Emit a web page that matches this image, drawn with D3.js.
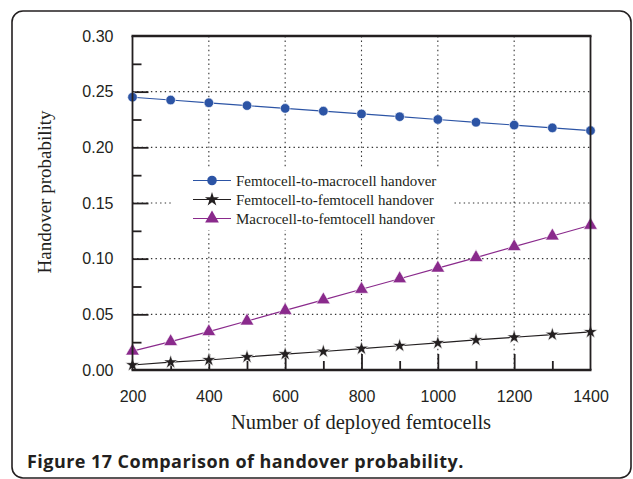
<!DOCTYPE html>
<html>
<head>
<meta charset="utf-8">
<script src="https://cdn.jsdelivr.net/npm/d3@7.9.0/dist/d3.min.js"></script>
<style>
  html, body { margin: 0; padding: 0; background: #fff; }
  svg { display: block; }
</style>
</head>
<body>
<div id="chart"></div>
<script>
// ---- data ----
const femtocells = [200, 300, 400, 500, 600, 700, 800, 900, 1000, 1100, 1200, 1300, 1400];
const femtoToMacro = [0.245, 0.2425, 0.240, 0.2375, 0.235, 0.2325, 0.230, 0.2275, 0.225, 0.2225, 0.220, 0.2175, 0.215];
const femtoToFemto = [0.0045, 0.007, 0.009, 0.0117, 0.0143, 0.0166, 0.0192, 0.0218, 0.0243, 0.027, 0.0294, 0.0318, 0.0342];
const macroToFemto = [0.017, 0.0255, 0.0345, 0.044, 0.0535, 0.063, 0.0725, 0.082, 0.0915, 0.101, 0.1108, 0.1204, 0.130];
const seriesNames = ['Femtocell-to-macrocell handover', 'Femtocell-to-femtocell handover', 'Macrocell-to-femtocell handover'];
const xTicks = [200, 400, 600, 800, 1000, 1200, 1400];
const xMinor = [300, 500, 700, 900, 1100, 1300];
const yTicks = [0, 0.05, 0.10, 0.15, 0.20, 0.25, 0.30];
const yMinor = [0.025, 0.075, 0.125, 0.175, 0.225, 0.275];
const xTitle = 'Number of deployed femtocells';
const yTitle = 'Handover probability';
const caption = 'Figure 17 Comparison of handover probability.';

const width = 633, height = 479;
const box = { left: 132.5, right: 590.5, top: 36, bottom: 370 };

const svg = d3.select('#chart').append('svg')
  .attr('width', width).attr('height', height);

// outer rounded frame
svg.append('rect')
  .attr('x', 12).attr('y', 11)
  .attr('width', 619).attr('height', 467)
  .attr('rx', 11)
  .attr('fill', 'none').attr('stroke', '#231f20').attr('stroke-width', 1.6);

const x = d3.scaleLinear().domain([200, 1400]).range([box.left, box.right]);
const y = d3.scaleLinear().domain([0, 0.30]).range([box.bottom, box.top]);

/* ---------- dotted grid ---------- */
const grid = svg.append('g')
  .attr('stroke', '#333').attr('stroke-width', 1.1)
  .attr('stroke-dasharray', '1.4,3.2');
grid.selectAll('line.v')
  .data(xTicks.slice(1, -1))
  .join('line').attr('class', 'v')
  .attr('x1', d => x(d)).attr('x2', d => x(d))
  .attr('y1', box.top).attr('y2', box.bottom);
grid.selectAll('line.h')
  .data(yTicks.slice(1, -1))
  .join('line').attr('class', 'h')
  .attr('x1', box.left).attr('x2', box.right)
  .attr('y1', d => y(d)).attr('y2', d => y(d));

/* ---------- axes (ticks point inward) ---------- */
const tickFont = "'Liberation Sans', Arial, sans-serif";

const yAxis = svg.append('g')
  .attr('transform', `translate(${box.left},0)`)
  .call(d3.axisLeft(y).tickValues(yTicks).tickSize(-16).tickPadding(19)
    .tickFormat(d3.format('.2f')));
const yAxisMinor = svg.append('g')
  .attr('transform', `translate(${box.left},0)`)
  .call(d3.axisLeft(y).tickValues(yMinor).tickSize(-9).tickFormat(''));

const xAxis = svg.append('g')
  .attr('transform', `translate(0,${box.bottom})`)
  .call(d3.axisBottom(x).tickValues(xTicks).tickSize(-16).tickPadding(21)
    .tickFormat(d3.format('d')));
const xAxisMinor = svg.append('g')
  .attr('transform', `translate(0,${box.bottom})`)
  .call(d3.axisBottom(x).tickValues(xMinor).tickSize(-9).tickFormat(''));

for (const g of [yAxis, yAxisMinor, xAxis, xAxisMinor]) {
  g.select('.domain').remove();
  g.selectAll('.tick line').attr('stroke', '#231f20').attr('stroke-width', 1.8);
  g.selectAll('.tick text')
    .attr('fill', '#231f20')
    .style('font-family', tickFont)
    .style('font-size', '16px');
}
// hide the tick marks that sit on the frame corners
yAxis.selectAll('.tick').filter(d => d === 0 || d === 0.30).select('line').remove();
xAxis.selectAll('.tick').filter(d => d === 200 || d === 1400).select('line').remove();

/* ---------- legend background (breaks the grid) ---------- */
const legend = svg.append('g');
legend.append('rect')
  .attr('x', 172).attr('y', 168)
  .attr('width', 282).attr('height', 62)
  .attr('fill', '#fff');

/* ---------- series ---------- */
const series = [
  { name: seriesNames[0], values: femtoToMacro, color: '#2c54a5', symbol: d3.symbolCircle, size: 72 },
  { name: seriesNames[1], values: femtoToFemto, color: '#231f20', symbol: d3.symbolStar, size: 62 },
  { name: seriesNames[2], values: macroToFemto, color: '#8a2a8c', symbol: d3.symbolTriangle, size: 82 },
];

const line = d3.line().x(d => x(d[0])).y(d => y(d[1]));

const plot = svg.append('g');
series.forEach(s => {
  const pts = femtocells.map((f, i) => [f, s.values[i]]);
  plot.append('path')
    .datum(pts)
    .attr('d', line)
    .attr('fill', 'none')
    .attr('stroke', s.color)
    .attr('stroke-width', 1.2);
  plot.selectAll(null)
    .data(pts)
    .join('path')
    .attr('transform', d => `translate(${x(d[0])},${y(d[1])})`)
    .attr('d', d3.symbol(s.symbol, s.size))
    .attr('fill', s.color)
    .attr('stroke', '#fff')
    .attr('stroke-width', 0.6);
});

/* ---------- legend entries ---------- */
const rowY = [180.5, 199.5, 218.5];
series.forEach((s, i) => {
  const row = legend.append('g').attr('transform', `translate(0,${rowY[i]})`);
  row.append('line')
    .attr('x1', 193).attr('x2', 231)
    .attr('stroke', s.color).attr('stroke-width', 1.2);
  row.append('path')
    .attr('transform', 'translate(212,0)')
    .attr('d', d3.symbol(s.symbol, s.size))
    .attr('fill', s.color);
  row.append('text')
    .attr('x', 236).attr('dy', '0.35em')
    .attr('fill', '#231f20')
    .style('font-family', "'Liberation Serif', 'Times New Roman', serif")
    .style('font-size', '15px')
    .text(s.name);
});

/* ---------- plot frame ---------- */
const frame = svg.append('g').attr('fill', 'none').attr('stroke', '#231f20');
frame.append('line').attr('x1', box.left).attr('x2', box.left)
  .attr('y1', box.top).attr('y2', box.bottom).attr('stroke-width', 1.8);
frame.append('line').attr('x1', box.right).attr('x2', box.right)
  .attr('y1', box.top).attr('y2', box.bottom).attr('stroke-width', 1.8);
frame.append('line').attr('x1', box.left - 1).attr('x2', box.right + 1)
  .attr('y1', box.top).attr('y2', box.top).attr('stroke-width', 2.6);
frame.append('line').attr('x1', box.left - 1).attr('x2', box.right + 1)
  .attr('y1', box.bottom).attr('y2', box.bottom).attr('stroke-width', 2.4);

/* ---------- titles ---------- */
svg.append('text')
  .attr('x', 361).attr('y', 429)
  .attr('text-anchor', 'middle')
  .attr('fill', '#231f20')
  .style('font-family', "'Liberation Serif', 'Times New Roman', serif")
  .style('font-size', '20.5px')
  .text(xTitle);

svg.append('text')
  .attr('transform', 'translate(51,192) rotate(-90)')
  .attr('text-anchor', 'middle')
  .attr('fill', '#231f20')
  .style('font-family', "'Liberation Serif', 'Times New Roman', serif")
  .style('font-size', '19px')
  .text(yTitle);

svg.append('text')
  .attr('x', 27).attr('y', 468)
  .attr('fill', '#231f20')
  .style('font-family', "'Open Sans', 'Noto Sans', sans-serif")
  .style('font-weight', 700)
  .style('font-size', '18px')
  .style('letter-spacing', '0.45px')
  .text(caption);
</script>
</body>
</html>
